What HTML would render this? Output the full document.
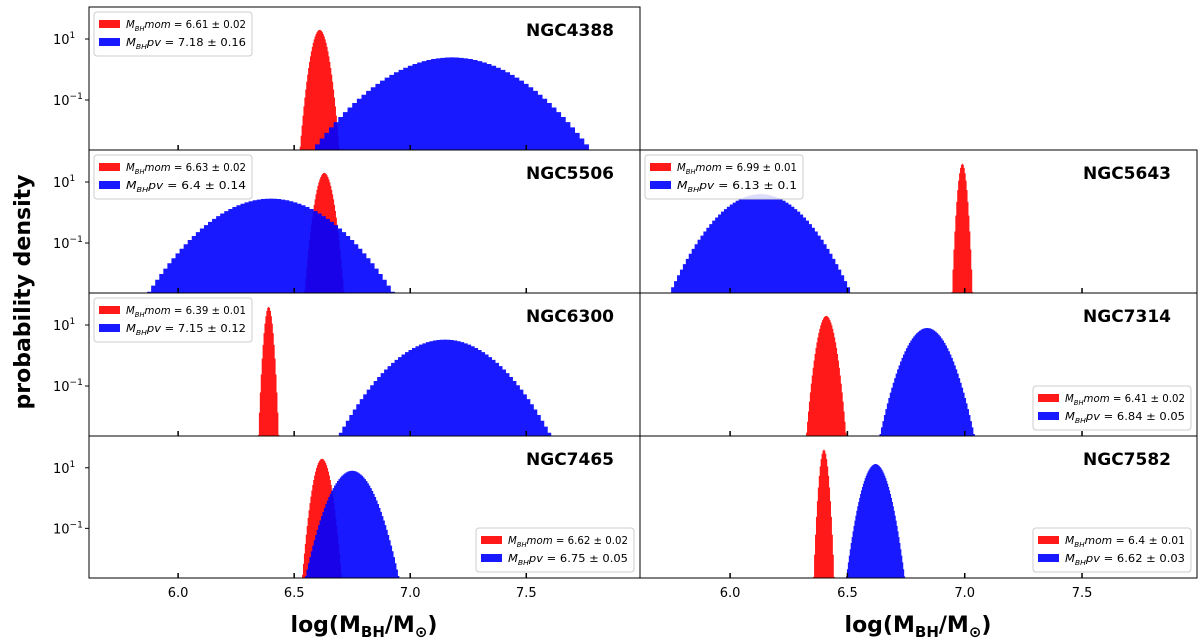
<!DOCTYPE html>
<html><head><meta charset="utf-8"><style>
html,body{margin:0;padding:0;background:#fff;}
svg{display:block;font-family:"DejaVu Sans","Liberation Sans",sans-serif;}
</style></head><body>
<svg id="chart" width="1200" height="641" viewBox="0 0 1200 641">
<text x="30" y="292" transform="rotate(-90 30 292)" text-anchor="middle" font-size="22" font-weight="bold">probability density</text>
<text x="364" y="632" text-anchor="middle" font-size="22" font-weight="bold">log(M<tspan font-size="15" dy="5">BH</tspan><tspan dy="-5">/M</tspan><tspan font-size="15" dy="5">⊙</tspan><tspan dy="-5">)</tspan></text>
<text x="918" y="632" text-anchor="middle" font-size="22" font-weight="bold">log(M<tspan font-size="15" dy="5">BH</tspan><tspan dy="-5">/M</tspan><tspan font-size="15" dy="5">⊙</tspan><tspan dy="-5">)</tspan></text>
</svg>
<script>
const galaxies = ["NGC4388","NGC5506","NGC5643","NGC6300","NGC7314","NGC7465","NGC7582"];
const momMean = [6.61,6.63,6.99,6.39,6.41,6.62,6.40];
const momSigma = [0.02,0.02,0.01,0.01,0.02,0.02,0.01];
const pvMean = [7.18,6.40,6.13,7.15,6.84,6.75,6.62];
const pvSigma = [0.16,0.14,0.10,0.12,0.05,0.05,0.03];
const momLabel = ["6.61 ± 0.02","6.63 ± 0.02","6.99 ± 0.01","6.39 ± 0.01","6.41 ± 0.02","6.62 ± 0.02","6.4 ± 0.01"];
const pvLabel = ["7.18 ± 0.16","6.4 ± 0.14","6.13 ± 0.1","7.15 ± 0.12","6.84 ± 0.05","6.75 ± 0.05","6.62 ± 0.03"];
const xTicks = [6.0,6.5,7.0,7.5];
const xTickLabels = ["6.0","6.5","7.0","7.5"];
const yTicks = [1,-1];
const yTickLabels = ["10","10"];
const yTickSup = ["1","−1"];

const NS="http://www.w3.org/2000/svg";
const svg=document.getElementById('chart');
function mk(tag,attrs,parent){const e=document.createElementNS(NS,tag);for(const k in attrs)e.setAttribute(k,attrs[k]);(parent||svg).appendChild(e);return e;}
const layout=[[0,0,'tl'],[0,1,'tl'],[1,1,'tl'],[0,2,'tl'],[1,2,'br'],[0,3,'br'],[1,3,'br']];
const colX=[[89,640],[640,1197]];
const rowY=[[7,150],[150,293],[293,436],[436,578]];
const X0=5.616,X1=7.99, LTOP=2.05, LBOT=-2.64;
galaxies.forEach((name,i)=>{
  const [c,r,lp]=layout[i];
  const [l,rr]=colX[c],[t,b]=rowY[r];
  const g=mk('g',{});
  
  
  const xs=v=>l+(v-X0)/(X1-X0)*(rr-l);
  const ys=d=>{const lg=Math.log10(d);return t+(LTOP-lg)/(LTOP-LBOT)*(b-t);};
  const clipId='clip'+i;
  const cp=mk('clipPath',{id:clipId},g);mk('rect',{x:l,y:t,width:rr-l,height:b-t},cp);
  function hist(mu,sg,color,nm){
    const bw=Math.max(sg/8,0.004);
    let d='';let started=false;let lastX=0;
    for(let k=-60;k<=60;k++){
      const x=mu+k*bw;
      const dens=Math.exp(-0.5*((x-mu)/sg)**2)/(sg*Math.sqrt(2*Math.PI));
      if(dens<Math.pow(10,LBOT)) continue;
      const y=ys(dens);
      if(!started){d+='M'+xs(x-bw/2)+','+b;started=true;}
      d+='L'+xs(x-bw/2)+','+y+'L'+xs(x+bw/2)+','+y;
      lastX=xs(x+bw/2);
    }
    d+='L'+lastX+','+b+'Z';
    const p=mk('path',{d:d,fill:color,'clip-path':'url(#'+clipId+')'},g);
    
    
  }
  hist(momMean[i],momSigma[i],'rgba(255,0,0,0.9)','mom-histogram');
  hist(pvMean[i],pvSigma[i],'rgba(0,0,255,0.9)','pv-histogram');
  const fr=mk('rect',{x:l,y:t,width:rr-l,height:b-t,fill:'none',stroke:'#000','stroke-width':1},g);
  
  
  xTicks.forEach((v,k)=>{
    const tk=mk('line',{x1:xs(v),x2:xs(v),y1:b,y2:b-5,stroke:'#000','stroke-width':1.5},g);
    
    
    if(r===3){
      const tl=mk('text',{x:xs(v),y:b+19,'text-anchor':'middle','font-size':13},g);
      tl.textContent=xTickLabels[k];
      
      
    }
  });
  if(c===0){
    yTicks.forEach((v,k)=>{
      const y=ys(Math.pow(10,v));
      mk('line',{x1:l,x2:l-4,y1:y,y2:y,stroke:'#000'},g);
      const tl=mk('text',{x:l-36,y:y+5,'font-size':13},g);
      
      
      const a=mk('tspan',{},tl);a.textContent=yTickLabels[k];
      const s=mk('tspan',{'font-size':9,dy:-6},tl);s.textContent=yTickSup[k];
    });
  }
  const tt=mk('text',{x:rr-26,y:t+29,'text-anchor':'end','font-size':17,'font-weight':'bold'},g);
  tt.textContent=name;
  
  
  const lw=158,lh=44;
  const lx=lp==='tl'?l+5:rr-lw-6, ly=lp==='tl'?t+5:b-lh-6;
  const lg=mk('g',{},g);
  
  
  mk('rect',{x:lx,y:ly,width:lw,height:lh,rx:3,fill:'rgba(255,255,255,0.85)',stroke:'#ccc'},lg);
  [[momLabel[i],'rgba(255,0,0,0.9)','mom'],[pvLabel[i],'rgba(0,0,255,0.9)','pv']].forEach((e,k)=>{
    const yy=ly+8+k*18;
    mk('rect',{x:lx+5,y:yy,width:21,height:8,fill:e[1]},lg);
    const tx=mk('text',{x:lx+32,y:yy+8,'font-size':10.5,textLength:120,lengthAdjust:'spacingAndGlyphs'},lg);
    
    
    const a=mk('tspan',{'font-style':'italic'},tx);a.textContent='M';
    const s=mk('tspan',{'font-style':'italic','font-size':7,dy:3},tx);s.textContent='BH';
    const m=mk('tspan',{'font-style':'italic',dy:-3},tx);m.textContent=e[2];
    const v=mk('tspan',{},tx);v.textContent=' = '+e[0];
  });
});
</script>
</body></html>
